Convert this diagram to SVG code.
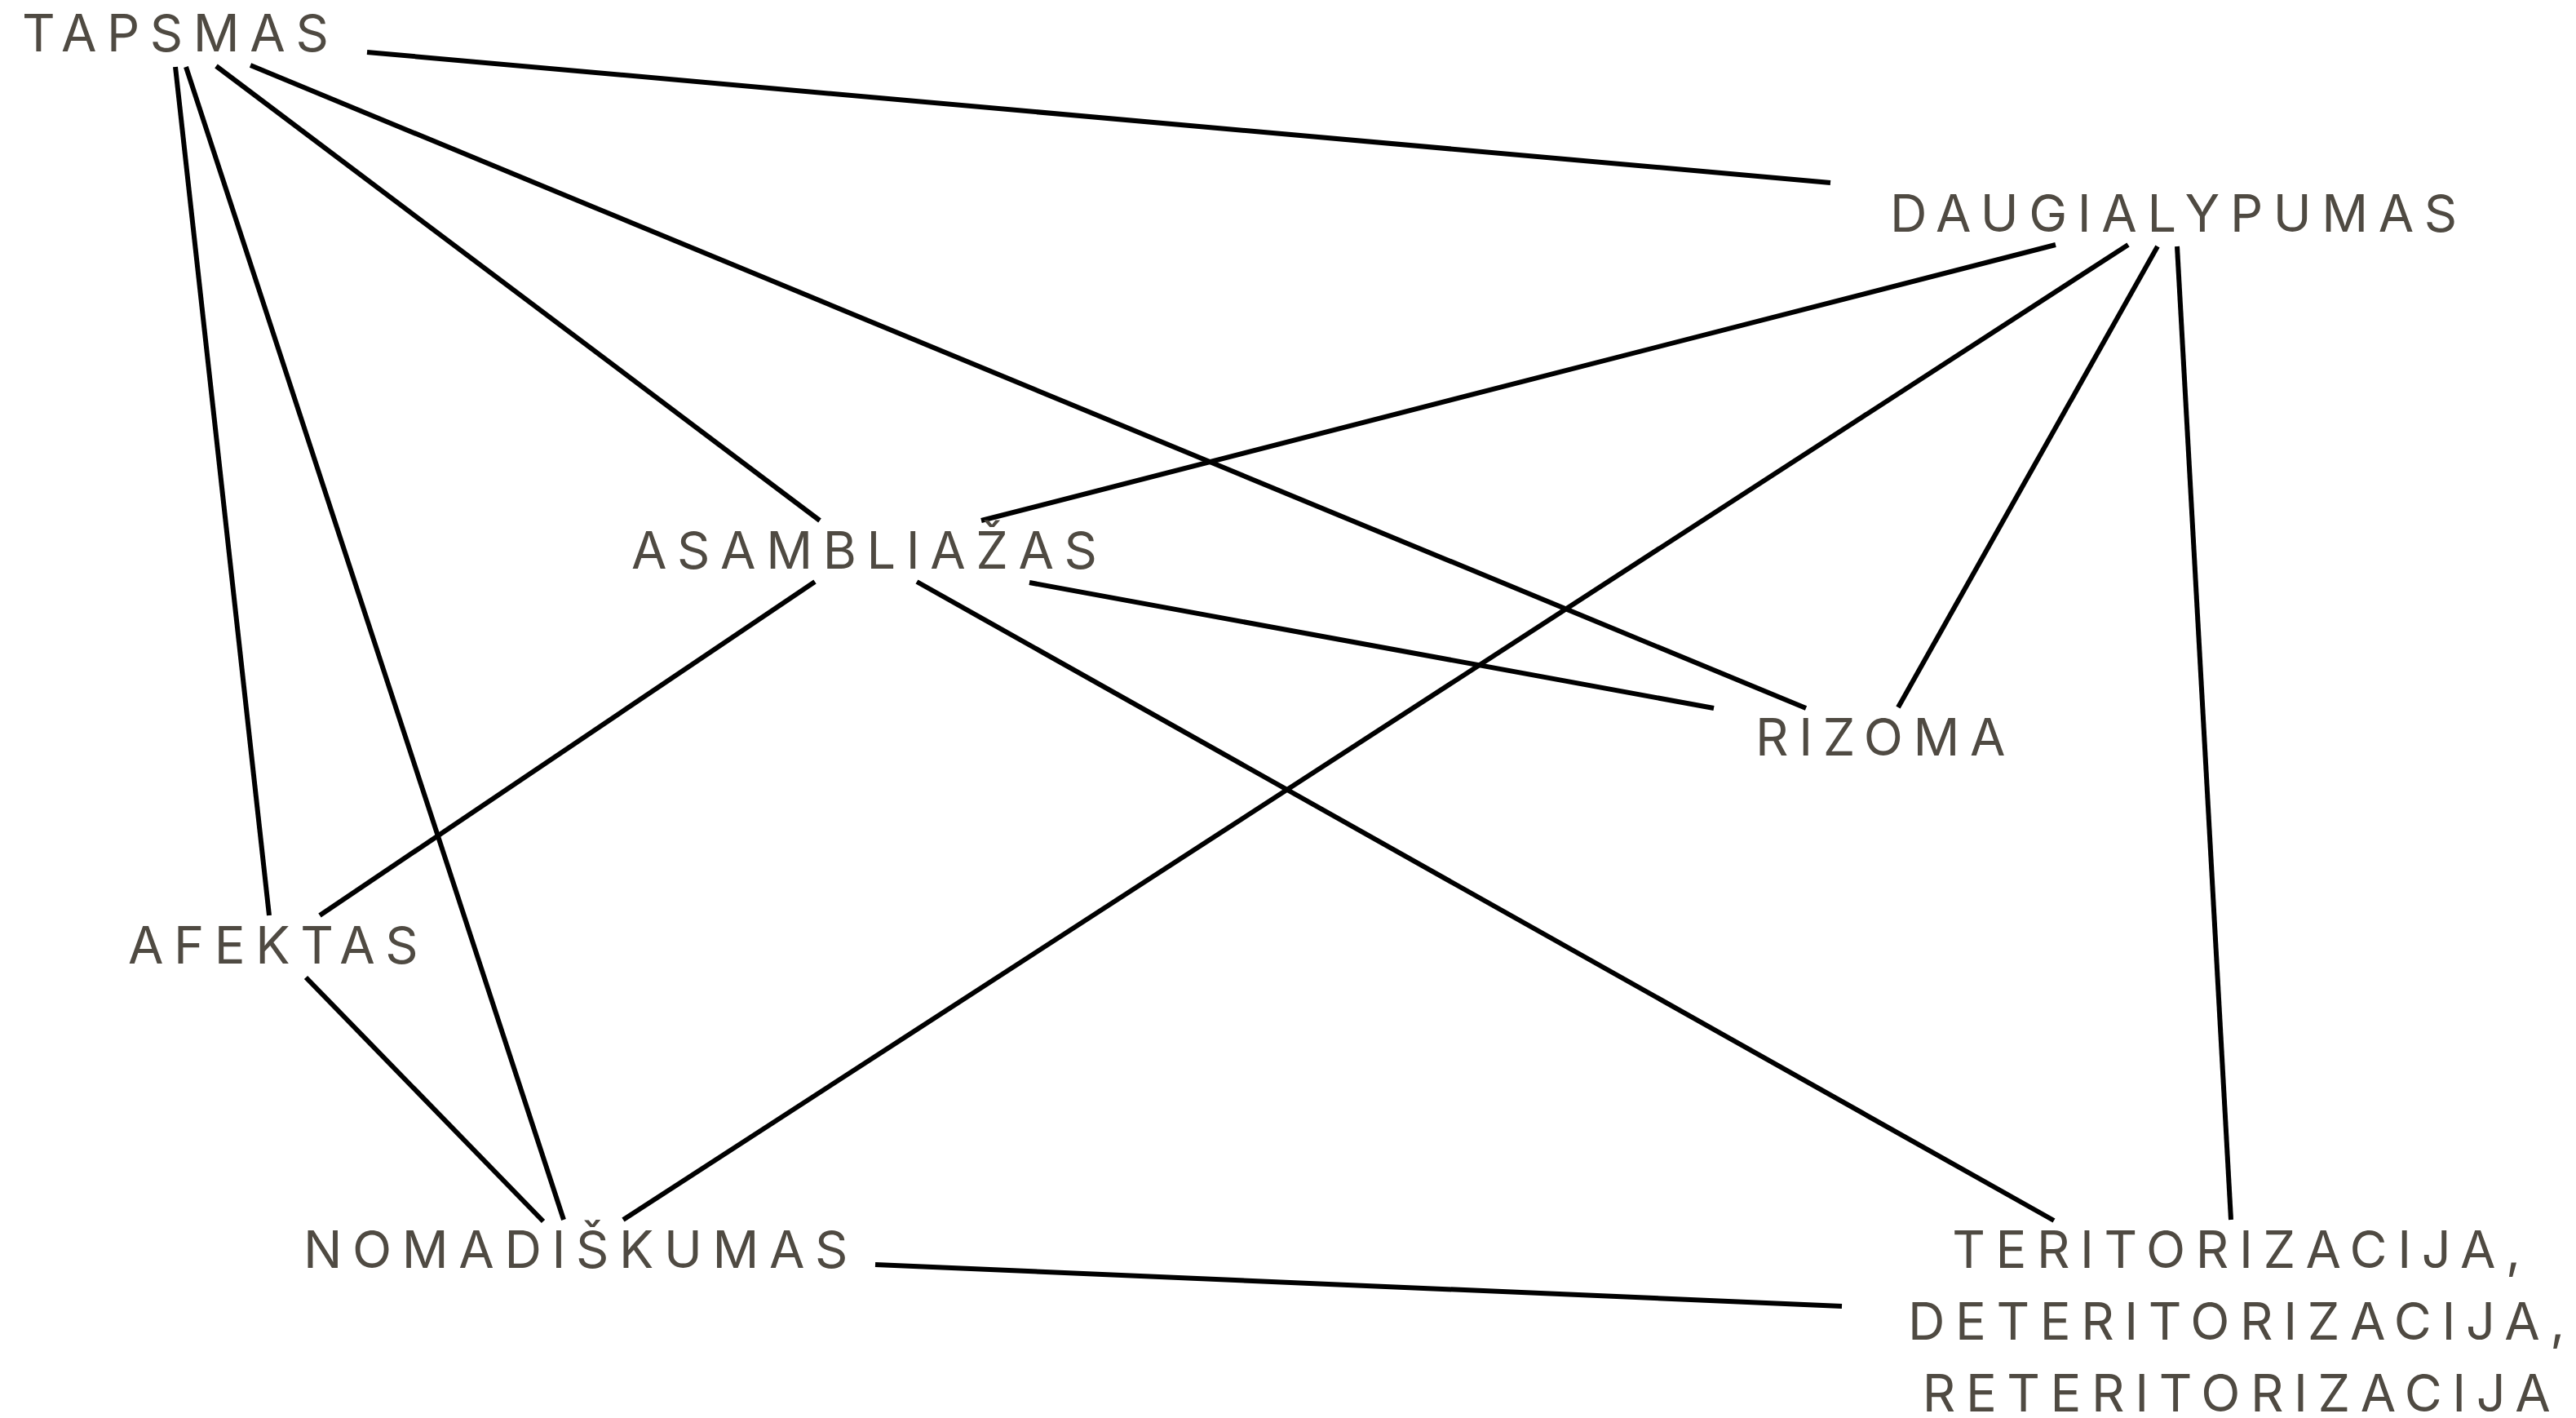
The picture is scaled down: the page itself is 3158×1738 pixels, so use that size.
<svg xmlns="http://www.w3.org/2000/svg" width="3158" height="1738" viewBox="0 0 3158 1738">
<style>
.lbl{font-family:Inter,"Noto Sans","Liberation Sans",sans-serif;font-size:63px;fill:#4f4a42;letter-spacing:12.6px}
.edge{stroke:#000;stroke-width:6;fill:none;stroke-linecap:butt}
</style>
<rect width="3158" height="1738" fill="#fff"/>
<g id="connectors">
<line class="edge" x1="450" y1="64" x2="2244" y2="224"/>
<line class="edge" x1="265" y1="81" x2="1005" y2="638"/>
<line class="edge" x1="307" y1="80" x2="2214" y2="868"/>
<line class="edge" x1="215" y1="82" x2="330" y2="1122"/>
<line class="edge" x1="228" y1="82" x2="691" y2="1495"/>
<line class="edge" x1="2520" y1="300" x2="1203" y2="638"/>
<line class="edge" x1="2609" y1="300" x2="764" y2="1495"/>
<line class="edge" x1="2645" y1="302" x2="2327" y2="867"/>
<line class="edge" x1="2669" y1="302" x2="2735" y2="1495"/>
<line class="edge" x1="1262" y1="714" x2="2101" y2="868"/>
<line class="edge" x1="999" y1="713" x2="392" y2="1122"/>
<line class="edge" x1="1124" y1="713" x2="2518" y2="1496"/>
<line class="edge" x1="375" y1="1198" x2="666" y2="1497"/>
<line class="edge" x1="1073" y1="1550" x2="2258" y2="1601"/>
</g>
<g id="tapsmas"><text class="lbl" x="27" y="63">TAPSMAS</text></g>
<g id="daugialypumas"><text class="lbl" x="2317" y="284">DAUGIALYPUMAS</text></g>
<g id="asambliazas"><text class="lbl" x="774" y="697">ASAMBLIAŽAS</text></g>
<g id="rizoma"><text class="lbl" x="2152" y="926">RIZOMA</text></g>
<g id="afektas"><text class="lbl" x="157" y="1181">AFEKTAS</text></g>
<g id="nomadiskumas"><text class="lbl" x="372" y="1554">NOMADIŠKUMAS</text></g>
<g id="teritorizacija"><text class="lbl" text-anchor="middle" y="1554"><tspan x="2748">TERITORIZACIJA,</tspan><tspan x="2748" y="1642">DETERITORIZACIJA,</tspan><tspan x="2748" y="1730">RETERITORIZACIJA</tspan></text></g>
</svg>
